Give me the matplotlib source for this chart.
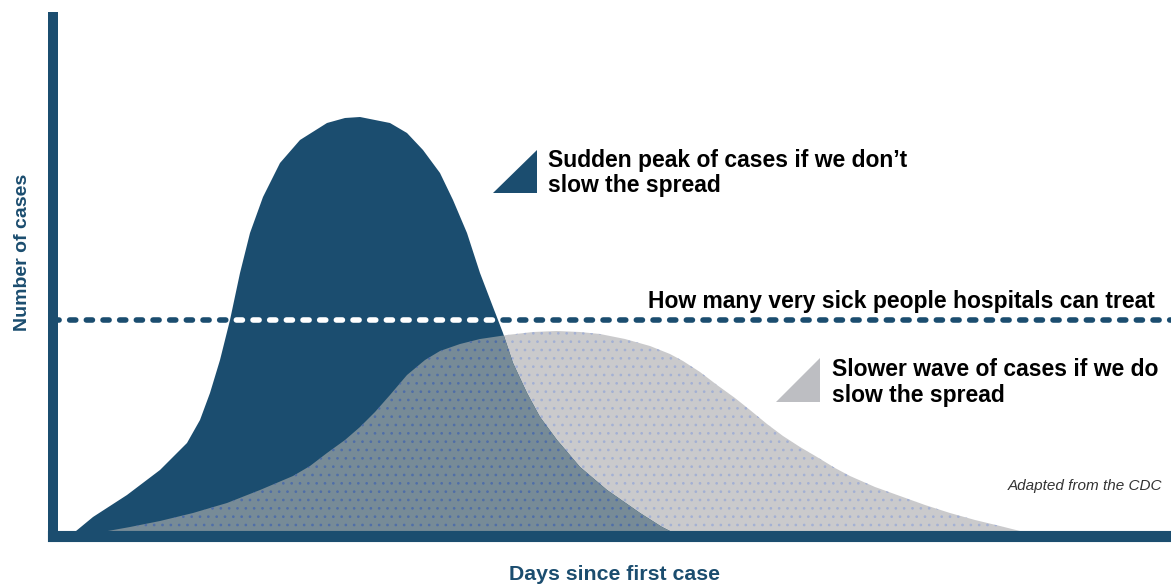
import matplotlib.pyplot as plt
from matplotlib.patches import Polygon

plt.rcParams['font.family'] = ['Liberation Sans', 'DejaVu Sans']

# values (days since first case, relative number of cases)
fast_days = [1.7, 4.0, 7.4, 10.7, 13.4, 14.7, 15.7, 16.7, 17.7, 18.7, 19.7, 21.0,
             22.7, 24.7, 27.4, 29.2, 30.7, 33.7, 35.4, 37.0, 38.7, 40.0, 41.4,
             42.7, 44.0, 45.0, 46.0, 47.4, 48.7, 50.4, 52.7, 55.4, 58.7, 60.9, 62.7]
fast_cases = [0, 3.8, 8.2, 13.2, 18.6, 23.2, 28.6, 35.2, 43.2, 52.6, 60.6, 67.8,
              74.6, 79.2, 82.6, 83.6, 83.8, 82.6, 80.6, 77.2, 72.6, 67.2, 60.6,
              52.6, 45.8, 40.6, 34.6, 28.6, 23.8, 19.2, 13.8, 9.2, 4.6, 1.8, 0]

slow_days = [2.7, 7.7, 10.7, 14.0, 17.4, 20.7, 24.0, 25.7, 27.4, 29.2, 30.7, 32.2,
             33.7, 35.4, 37.2, 38.7, 40.7, 42.7, 45.4, 48.0, 50.4, 52.7, 54.7,
             57.2, 59.7, 61.7, 63.0, 64.7, 66.4, 68.2, 69.7, 71.4, 73.0, 74.7,
             76.4, 78.2, 79.7, 82.2, 84.7, 87.2, 89.7, 92.2, 94.7, 96.7, 99.2]
slow_cases = [0, 1.8, 3.0, 4.6, 6.6, 9.2, 12.0, 14.0, 16.6, 19.2, 21.8, 24.8,
              28.2, 32.2, 35.2, 37.0, 38.4, 39.4, 40.2, 40.8, 41.0, 40.8, 40.4,
              39.4, 38.0, 36.4, 35.0, 32.8, 30.2, 27.6, 25.2, 22.4, 20.0, 17.8,
              15.8, 13.6, 12.0, 9.8, 8.0, 6.2, 4.6, 3.2, 2.0, 1.0, 0]

capacity = 43.2

xlabel = 'Days since first case'
ylabel = 'Number of cases'
fast_note = ['Sudden peak of cases if we don\u2019t', 'slow the spread']
slow_note = ['Slower wave of cases if we do', 'slow the spread']
capacity_note = 'How many very sick people hospitals can treat'
source = 'Adapted from the CDC'

DARK = '#1b4d6f'
GREY = '#cacacc'
MIX = '#778b97'
SPECK = '#4f6ea8'

W, H = 1171, 585


def fx(x):
    return x / W


def fy(y):
    return 1 - y / H


fig = plt.figure(figsize=(W / 100, H / 100), dpi=100)
ax = fig.add_axes([fx(53), fy(536), (W - 53) / W, (536 - 17) / H])

plt.rcParams['hatch.linewidth'] = 0.7

grey = ax.fill_between(slow_days, slow_cases, 0, facecolor=GREY, edgecolor='#a3b0d4',
                       hatch='..', linewidth=0, zorder=1)
dark = ax.fill_between(fast_days, fast_cases, 0, facecolor=DARK, linewidth=0, zorder=2)
dark_path = dark.get_paths()[0]

overlap = ax.fill_between(slow_days, slow_cases, 0, facecolor=MIX, edgecolor=SPECK,
                          hatch='..', linewidth=0, zorder=3)
overlap.set_clip_path(dark_path, ax.transData)

ax.axhline(capacity, color=DARK, lw=4, dashes=(1.1, 1.9), dash_capstyle='round', zorder=4)
white = ax.axhline(capacity, color='white', lw=4, dashes=(1.1, 1.9),
                   dash_capstyle='round', zorder=5)
white.set_clip_path(dark_path, ax.transData)

ax.set_xlim(0, 111.8)
ax.set_ylim(0, 103.8)
ax.set_xticks([])
ax.set_yticks([])
for s in ['top', 'right']:
    ax.spines[s].set_visible(False)
ax.spines['left'].set_linewidth(7.2)
ax.spines['bottom'].set_linewidth(8)
for s in ['left', 'bottom']:
    ax.spines[s].set_color(DARK)
    ax.spines[s].set_capstyle('projecting')
    ax.spines[s].set_zorder(10)

# axis titles
fig.text(fx(23), fy(252), ylabel, rotation=90, ha='center', va='center',
         fontsize=14, fontweight='bold', color=DARK)
fig.text(fx(615), fy(575), xlabel, ha='center', va='center',
         fontsize=15.3, fontweight='bold', color=DARK)

# annotations
fig.patches.append(Polygon([(fx(493), fy(193)), (fx(537), fy(150)), (fx(537), fy(193))],
                           closed=True, transform=fig.transFigure, facecolor=DARK,
                           edgecolor='none'))
fig.text(fx(548), fy(167), fast_note[0], ha='left', va='baseline', fontsize=16.5,
         fontweight='bold', color='black')
fig.text(fx(548), fy(192), fast_note[1], ha='left', va='baseline', fontsize=16.5,
         fontweight='bold', color='black')

fig.patches.append(Polygon([(fx(776), fy(402)), (fx(820), fy(358)), (fx(820), fy(402))],
                           closed=True, transform=fig.transFigure, facecolor='#bdbec2',
                           edgecolor='none'))
fig.text(fx(832), fy(376), slow_note[0], ha='left', va='baseline', fontsize=16.5,
         fontweight='bold', color='black')
fig.text(fx(832), fy(402), slow_note[1], ha='left', va='baseline', fontsize=16.5,
         fontweight='bold', color='black')

fig.text(fx(1155), fy(308), capacity_note, ha='right', va='baseline', fontsize=16.5,
         fontweight='bold', color='black')
fig.text(fx(1162), fy(490), source, ha='right', va='baseline', fontsize=11,
         style='italic', color='#333333')

fig.savefig('out.png', dpi=100)
